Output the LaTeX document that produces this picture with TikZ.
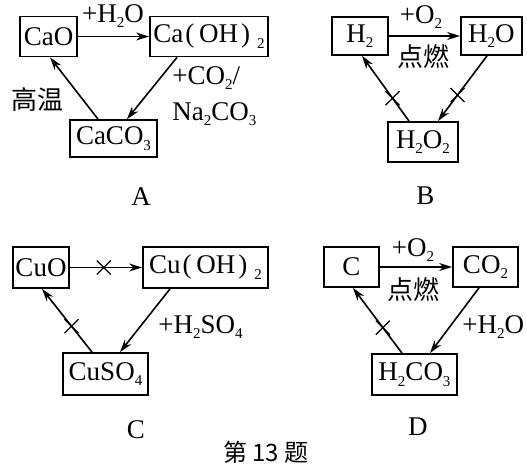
\documentclass[tikz,border=0pt]{standalone}
\usepackage{fontspec}
\setmainfont{Liberation Serif}
\newfontfamily\cjk{Noto Sans CJK SC}
\usetikzlibrary{arrows.meta,calc}
\newcommand\lsub[1]{\raisebox{-0.45ex}{\fontsize{7.5}{8}\selectfont #1}}
\begin{document}
\begin{tikzpicture}[x=0.5pt,y=-0.5pt,
  box/.style={draw,line width=0.9pt,inner sep=0pt,font=\fontsize{13.5}{15}\selectfont},
  arr/.style={line width=0.8pt,-{Stealth[length=6.5pt,width=4pt]}},
  lbl/.style={font=\fontsize{13.5}{15}\selectfont,inner sep=0pt},
  cn/.style={font=\cjk\fontsize{13}{15}\selectfont,inner sep=0pt},
  xm/.style={line width=0.6pt}]
\useasboundingbox (0,0) rectangle (527,476);
% ---------- A ----------
\node[box,minimum width=28.5pt,minimum height=20pt] (cao) at (48.5,36.5) {CaO};
\node[box,minimum width=59pt,minimum height=20pt] (caoh) at (209,36.5) {Ca\kern1pt(\kern2.5pt OH\kern1.5pt)\kern3.5pt\lsub{2}};
\node[box,minimum width=43.5pt,minimum height=18.5pt] (caco) at (113.5,138.5) {CaCO\lsub{3}};
\draw[arr] (cao.east) -- (caoh.west);
\draw[arr] ([xshift=-16pt]caoh.south) -- ([xshift=6.75pt]caco.north);
\draw[arr] ([xshift=-7.75pt]caco.north) -- ([xshift=0.75pt]cao.south);
\node[lbl] (l1) at (113,16) {+H\lsub{2}O};
\node[cn] (l2) at (37,100) {高温};
\node[lbl,align=left,anchor=west,font=\fontsize{13.5}{18}\selectfont] (l3) at (172,96) {+CO\lsub{2}/\\Na\lsub{2}CO\lsub{3}};
\node[lbl] (la) at (141,197) {A};
% ---------- B ----------
\node[box,minimum width=28pt,minimum height=19pt] (h2) at (360,36) {H\lsub{2}};
\node[box,minimum width=30.5pt,minimum height=19pt] (h2o) at (491.5,36) {H\lsub{2}O};
\node[box,minimum width=35pt,minimum height=20pt] (h2o2) at (423,142) {H\lsub{2}O\lsub{2}};
\draw[arr] (h2.east) -- (h2o.west);
\draw[arr] ([xshift=-2.25pt]h2o.south) -- coordinate[pos=0.6] (xb1) ([xshift=7.5pt]h2o2.north);
\draw[arr] ([xshift=-7pt]h2o2.north) -- coordinate[pos=0.35] (xb2) ([xshift=1pt]h2.south);
\draw[xm] (xb1) +(-3.5pt,-3.5pt) -- +(3.5pt,3.5pt) (xb1) +(-3.5pt,3.5pt) -- +(3.5pt,-3.5pt);
\draw[xm] (xb2) +(-3.5pt,-3.5pt) -- +(3.5pt,3.5pt) (xb2) +(-3.5pt,3.5pt) -- +(3.5pt,-3.5pt);
\node[lbl] (lb1) at (421,17) {+O\lsub{2}};
\node[cn] (lb2) at (424,57) {点燃};
\node[lbl] (lb) at (425.5,196) {B};
% ---------- C ----------
\node[box,minimum width=28pt,minimum height=20.5pt] (cuo) at (41,267.5) {CuO};
\node[box,minimum width=62.5pt,minimum height=20.5pt] (cuoh) at (205.5,267.5) {Cu\kern1pt(\kern2.5pt OH\kern1.5pt)\kern3.5pt\lsub{2}};
\node[box,minimum width=42.5pt,minimum height=21pt] (cuso) at (105.5,374) {CuSO\lsub{4}};
\draw[arr] (cuo.east) -- coordinate[pos=0.47] (xc1) (cuoh.west);
\draw[arr] ([xshift=-17.75pt]cuoh.south) -- ([xshift=7.25pt]cuso.north);
\draw[arr] ([xshift=-6.75pt]cuso.north) -- coordinate[pos=0.41] (xc2) ([xshift=0.5pt]cuo.south);
\draw[xm] (xc1) +(-3.5pt,-3.5pt) -- +(3.5pt,3.5pt) (xc1) +(-3.5pt,3.5pt) -- +(3.5pt,-3.5pt);
\draw[xm] (xc2) +(-3.5pt,-3.5pt) -- +(3.5pt,3.5pt) (xc2) +(-3.5pt,3.5pt) -- +(3.5pt,-3.5pt);
\node[lbl,anchor=west] (lc1) at (158,327) {+H\lsub{2}SO\lsub{4}};
\node[lbl] (lc) at (136,430) {C};
% ---------- D ----------
\node[box,minimum width=27.5pt,minimum height=20pt] (c) at (351.5,267) {C};
\node[box,minimum width=32.5pt,minimum height=20pt] (co2) at (485.5,267) {CO\lsub{2}};
\node[box,minimum width=42.5pt,minimum height=20.5pt] (h2co3) at (414.5,374.5) {H\lsub{2}CO\lsub{3}};
\draw[arr] (c.east) -- (co2.west);
\draw[arr] ([xshift=-3.25pt]co2.south) -- ([xshift=7.75pt]h2co3.north);
\draw[arr] ([xshift=-6.25pt]h2co3.north) -- coordinate[pos=0.39] (xd1) ([xshift=0.75pt]c.south);
\draw[xm] (xd1) +(-3.5pt,-3.5pt) -- +(3.5pt,3.5pt) (xd1) +(-3.5pt,3.5pt) -- +(3.5pt,-3.5pt);
\node[lbl] (ld1) at (413,250) {+O\lsub{2}};
\node[cn] (ld2) at (414,290) {点燃};
\node[lbl,anchor=west] (ld3) at (462,327) {+H\lsub{2}O};
\node[lbl] (ld) at (418,427) {D};
% ---------- caption ----------
\node[font=\cjk\fontsize{12}{14}\selectfont,inner sep=0pt] (cap) at (266,452) {第 13 题};
\end{tikzpicture}
\end{document}
